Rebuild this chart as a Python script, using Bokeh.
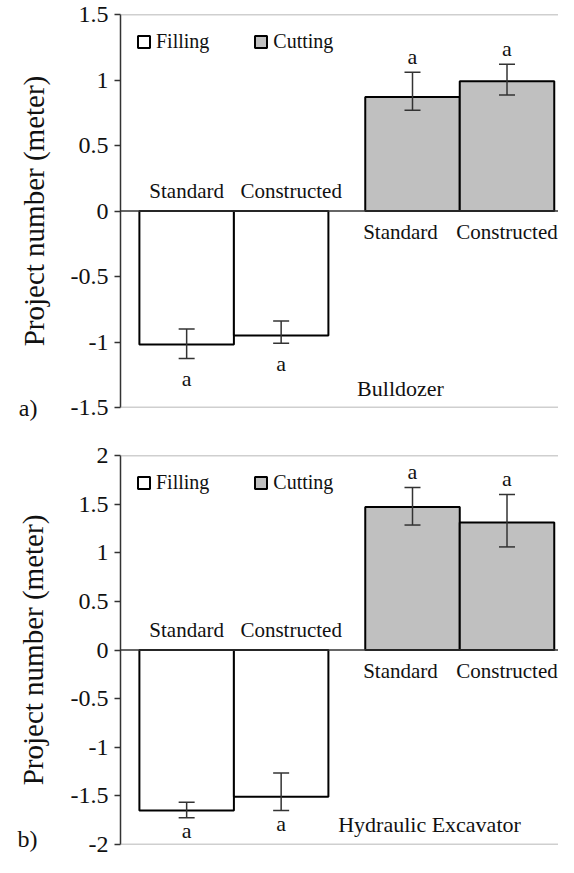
from bokeh.plotting import figure
from bokeh.layouts import column
from bokeh.models import (Span, Whisker, TeeHead, Label, ColumnDataSource,
                          FixedTicker, Range1d, LinearAxis)
from bokeh.core.properties import value
from bokeh.embed import file_html
from bokeh.resources import INLINE

# ---------------- data ----------------
operations = ["Filling", "Cutting"]
methods = ["Standard", "Constructed"]

bulldozer_mean = [-1.02, -0.95, 0.87, 0.99]
bulldozer_lower = [-1.125, -1.01, 0.77, 0.885]
bulldozer_upper = [-0.90, -0.84, 1.06, 1.12]
bulldozer_letters = ["a", "a", "a", "a"]

excavator_mean = [-1.65, -1.51, 1.47, 1.31]
excavator_lower = [-1.725, -1.65, 1.285, 1.06]
excavator_upper = [-1.565, -1.265, 1.67, 1.60]
excavator_letters = ["a", "a", "a", "a"]

bulldozer_ticks = [-1.5, -1.0, -0.5, 0.0, 0.5, 1.0, 1.5]
bulldozer_tick_labels = ["-1.5", "-1", "-0.5", "0", "0.5", "1", "1.5"]
excavator_ticks = [-2.0, -1.5, -1.0, -0.5, 0.0, 0.5, 1.0, 1.5, 2.0]
excavator_tick_labels = ["-2", "-1.5", "-1", "-0.5", "0", "0.5", "1", "1.5", "2"]

y_label = "Project number (meter)"

# ---------------- style / layout ----------------
SERIF = "'Liberation Serif', 'Times New Roman', serif"
TXT = "#111111"
WIDTH = 558
BORDER_LEFT = 120
FRAME_W = WIDTH - BORDER_LEFT
BAR_PX = 94.5                      # pixel width of one bar
X_MAX = FRAME_W / BAR_PX
FILL_COLORS = {"Filling": "white", "Cutting": "#c0c0c0"}


def bar_positions():
    xs = []
    for g in range(len(operations)):
        for m in range(len(methods)):
            xs.append(0.7 + g * 2.39 + m)
    return xs


def make_panel(mean, lower, upper, letters, ticks, tick_labels, tag, machine,
               height, b_top, b_bottom, letter_neg_px, letter_pos_px,
               machine_x_px, machine_y_px, tag_dy_px):
    ymin, ymax = ticks[0], ticks[-1]
    frame_h = height - b_top - b_bottom
    ppu = frame_h / (ymax - ymin)
    xs = bar_positions()

    p = figure(width=WIDTH, height=height, output_backend="svg",
               toolbar_location=None, x_axis_location=None,
               y_axis_location=None,
               x_range=Range1d(0, X_MAX), y_range=Range1d(ymin, ymax),
               min_border_left=BORDER_LEFT, min_border_right=0,
               min_border_top=b_top, min_border_bottom=b_bottom)
    p.outline_line_color = None
    p.xgrid.visible = False
    p.ygrid.visible = False
    p.background_fill_color = "white"
    p.border_fill_color = "white"

    # bars
    n = len(methods)
    for g, op in enumerate(operations):
        sl = slice(g * n, (g + 1) * n)
        src = ColumnDataSource(dict(x=xs[sl], top=mean[sl]))
        p.vbar(x="x", top="top", bottom=0, width=1.0, source=src,
               fill_color=FILL_COLORS[op], line_color="black", line_width=2,
               legend_label=op)

    # error bars
    esrc = ColumnDataSource(dict(base=xs, lower=lower, upper=upper))
    head = dict(size=16, line_color="#333333", line_width=1.5)
    w = Whisker(source=esrc, base="base", lower="lower", upper="upper",
                line_color="#333333", line_width=1.5, level="overlay",
                upper_head=TeeHead(**head), lower_head=TeeHead(**head))
    p.add_layout(w)

    # frame lines
    p.add_layout(Span(location=0, dimension="width", line_color="#333333",
                      line_width=1.5))
    p.add_layout(Span(location=ymax, dimension="width", line_color="#a0a0a0",
                      line_width=1.5))
    p.add_layout(Span(location=ymin, dimension="width", line_color="#a0a0a0",
                      line_width=1.5))

    # significance letters
    ly = []
    for mval, lo, hi in zip(mean, lower, upper):
        if mval < 0:
            ly.append(lo - letter_neg_px / ppu)
        else:
            ly.append(hi + letter_pos_px / ppu)
    p.text(x=xs, y=ly, text=letters, text_font=value(SERIF),
           text_font_size="22px", text_align="center",
           text_baseline="middle", text_color=TXT)

    # category labels along the zero line
    cat_x, cat_y, cat_t = [], [], []
    dx_px = [0, 10, -12, 0]
    for i, x in enumerate(xs):
        g = i // n
        cat_x.append(x + dx_px[i] / BAR_PX)
        cat_y.append((20 if g == 0 else -21) / ppu)
        cat_t.append(methods[i % n])
    p.text(x=cat_x, y=cat_y, text=cat_t, text_font=value(SERIF),
           text_font_size="21px", text_align="center",
           text_baseline="middle", text_color=TXT)

    # machine name
    p.add_layout(Label(x=machine_x_px / BAR_PX, y=ymin + machine_y_px / ppu,
                       text=machine, text_font=SERIF, text_font_size="22px",
                       text_align="center", text_baseline="middle",
                       text_color=TXT))

    # main y axis (closest to the frame)
    ax = LinearAxis(ticker=FixedTicker(ticks=ticks))
    ax.major_label_overrides = {float(t): l for t, l in zip(ticks, tick_labels)}
    ax.major_label_text_font = SERIF
    ax.major_label_text_font_size = "24px"
    ax.major_label_text_color = TXT
    ax.major_label_standoff = 6
    ax.major_tick_in = 0
    ax.major_tick_out = 6
    ax.minor_tick_line_color = None
    ax.axis_line_color = "#333333"
    ax.axis_line_width = 1.5
    ax.major_tick_line_color = "#333333"
    ax.major_tick_line_width = 1.5
    p.add_layout(ax, "left")

    # outer axis: carries the panel tag and the axis title
    tag_y = float(ymin + tag_dy_px / ppu)
    tax = LinearAxis(ticker=FixedTicker(ticks=[tag_y]))
    tax.major_label_overrides = {tag_y: tag}
    tax.major_label_text_font = SERIF
    tax.major_label_text_font_size = "24px"
    tax.major_label_text_color = TXT
    tax.major_label_standoff = 30
    tax.major_tick_in = 0
    tax.major_tick_out = 0
    tax.major_tick_line_color = None
    tax.minor_tick_line_color = None
    tax.axis_line_color = None
    tax.axis_label = y_label
    tax.axis_label_text_font = SERIF
    tax.axis_label_text_font_size = "29px"
    tax.axis_label_text_font_style = "normal"
    tax.axis_label_text_color = TXT
    tax.axis_label_standoff = -34
    p.add_layout(tax, "left")

    # legend
    lg = p.legend[0]
    lg.orientation = "horizontal"
    lg.location = "top_left"
    lg.margin = 10
    lg.padding = 6
    lg.spacing = 44
    lg.glyph_width = 15
    lg.glyph_height = 15
    lg.label_standoff = 5
    lg.label_text_font = SERIF
    lg.label_text_font_size = "20px"
    lg.label_text_color = TXT
    lg.background_fill_alpha = 0
    lg.border_line_alpha = 0
    return p


p1 = make_panel(bulldozer_mean, bulldozer_lower, bulldozer_upper,
                bulldozer_letters, bulldozer_ticks, bulldozer_tick_labels,
                "a)", "Bulldozer", height=432, b_top=14, b_bottom=25,
                letter_neg_px=20, letter_pos_px=16,
                machine_x_px=280, machine_y_px=19, tag_dy_px=0)
p2 = make_panel(excavator_mean, excavator_lower, excavator_upper,
                excavator_letters, excavator_ticks, excavator_tick_labels,
                "b)", "Hydraulic Excavator", height=425, b_top=23, b_bottom=13,
                letter_neg_px=13, letter_pos_px=16,
                machine_x_px=309, machine_y_px=20, tag_dy_px=6)

layout = column(p1, p2, spacing=0)
open("out.html", "w").write(file_html(layout, INLINE))
